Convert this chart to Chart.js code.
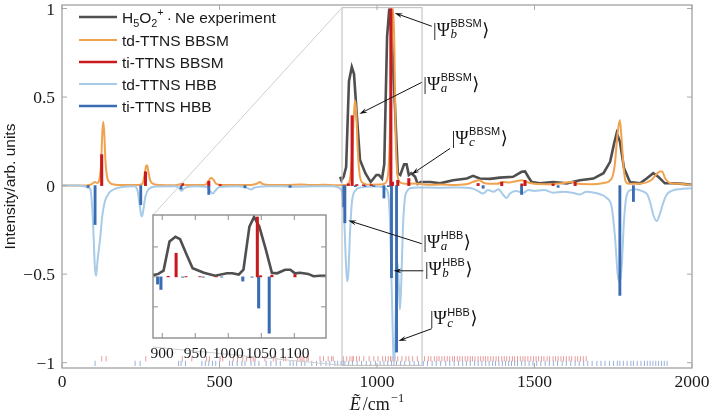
<!DOCTYPE html>
<html>
<head>
<meta charset="utf-8">
<script src="https://cdn.jsdelivr.net/npm/chart.js@4.4.1/dist/chart.umd.min.js"></script>
<style>
  html, body { margin: 0; padding: 0; background: #fff; }
  #wrap { position: relative; width: 709px; height: 415px; }
  #main { position: absolute; left: 0; top: 0; }
  #inset { position: absolute; left: 148px; top: 211px; }
</style>
</head>
<body>
<div id="wrap">
  <canvas id="main" width="709" height="415"></canvas>
  <canvas id="inset" width="186" height="150"></canvas>
</div>
<script>
// series names (legend)
const names = ['H5O2+ · Ne experiment', 'td-TTNS BBSM', 'ti-TTNS BBSM', 'td-TTNS HBB', 'ti-TTNS HBB'];

// axis ticks
const xTicks = [0, 500, 1000, 1500, 2000];
const yTicks = [-1, -0.5, 0, 0.5, 1];
const insetXTicks = [900, 950, 1000, 1050, 1100];
const insetYTicks = [-0.5, 0, 0.5];

// H5O2+ . Ne experiment
const expE = [883, 887, 894, 902, 911, 920, 927, 937, 946, 963, 980, 998, 1006, 1016, 1023, 1032, 1039, 1047, 1057, 1066, 1074, 1086, 1094, 1101, 1109, 1121, 1129, 1139, 1148, 1170, 1200, 1241, 1285, 1305, 1326, 1359, 1390, 1432, 1459, 1470, 1480, 1491, 1517, 1559, 1602, 1644, 1687, 1719, 1740, 1753, 1761, 1771, 1784, 1803, 1835, 1856, 1877, 1893, 1914, 1940, 1970, 2000];
const expI = [0.05, 0.03, 0.05, 0.105, 0.59, 0.67, 0.63, 0.37, 0.145, 0.07, 0.02, 0.06, 0.06, 0.04, 0.12, 0.84, 1.0, 0.84, 0.45, 0.07, 0.06, 0.12, 0.12, 0.06, 0.07, 0.05, 0.01, 0.02, 0.02, 0.02, 0.013, 0.03, 0.04, 0.055, 0.04, 0.038, 0.045, 0.05, 0.078, 0.08, 0.05, 0.02, 0.013, 0.02, 0.013, 0.03, 0.04, 0.07, 0.134, 0.24, 0.297, 0.25, 0.1, 0.02, 0.013, 0.04, 0.07, 0.05, 0.013, 0.013, 0.01, 0.005];

// td-TTNS BBSM
const tdbE = [0, 60, 90, 105, 112, 118, 124, 128, 131, 134, 138, 143, 150, 160, 180, 240, 255, 262, 267, 270, 274, 280, 290, 310, 360, 375, 382, 390, 420, 455, 465, 473, 480, 490, 510, 560, 600, 620, 628, 636, 660, 720, 760, 790, 830, 870, 900, 912, 920, 926, 930, 934, 939, 945, 955, 980, 1010, 1025, 1035, 1042, 1047, 1051, 1055, 1059, 1064, 1072, 1090, 1120, 1160, 1200, 1250, 1290, 1310, 1325, 1340, 1380, 1400, 1420, 1440, 1460, 1475, 1500, 1540, 1580, 1620, 1640, 1680, 1720, 1745, 1755, 1763, 1771, 1777, 1783, 1790, 1800, 1840, 1870, 1885, 1898, 1905, 1915, 1930, 1960, 2000];
const tdbI = [0, 0, 0.005, 0.02, 0.015, 0.03, 0.12, 0.30, 0.36, 0.30, 0.14, 0.05, 0.02, 0.008, 0.003, 0.003, 0.01, 0.06, 0.11, 0.115, 0.08, 0.03, 0.01, 0.003, 0.002, 0.008, 0.012, 0.004, 0.003, 0.005, 0.025, 0.045, 0.035, 0.01, 0.004, 0.003, 0.004, 0.012, 0.02, 0.01, 0.003, 0.004, 0.006, 0.003, 0.005, 0.002, 0.004, 0.02, 0.15, 0.38, 0.48, 0.42, 0.2, 0.06, 0.015, 0.005, 0.006, 0.012, 0.06, 0.35, 0.8, 1.0, 0.8, 0.3, 0.08, 0.02, 0.01, 0.012, 0.005, 0.006, 0.004, 0.01, 0.025, 0.03, 0.015, 0.01, 0.02, 0.018, 0.025, 0.03, 0.02, 0.01, 0.008, 0.012, 0.02, 0.01, 0.008, 0.015, 0.04, 0.12, 0.28, 0.37, 0.25, 0.1, 0.02, 0.01, 0.012, 0.03, 0.06, 0.08, 0.08, 0.04, 0.015, 0.01, 0.005];

// ti-TTNS BBSM sticks
const redE = [126, 265, 382, 466, 502, 909, 921, 936, 957, 982, 1044, 1049, 1066, 1101, 1321, 1396, 1460, 1470, 1559, 1629];
const redI = [0.175, 0.078, 0.012, 0.025, 0.006, 0.01, 0.395, 0.006, 0.005, 0.005, 1.0, 0.02, 0.03, 0.04, 0.012, 0.02, 0.01, 0.03, 0.01, 0.02];

// td-TTNS HBB
const tdhE = [0, 50, 70, 84, 90, 95, 100, 104, 108, 113, 121, 128, 136, 150, 166, 190, 230, 240, 246, 251, 254, 258, 265, 275, 300, 360, 372, 380, 388, 420, 460, 470, 478, 486, 500, 560, 590, 600, 610, 650, 700, 740, 800, 860, 885, 895, 901, 905, 909, 914, 920, 930, 950, 980, 1010, 1030, 1040, 1047, 1052, 1055, 1058, 1062, 1065, 1069, 1073, 1077, 1082, 1088, 1096, 1105, 1130, 1200, 1260, 1300, 1320, 1337, 1352, 1370, 1385, 1400, 1411, 1422, 1440, 1465, 1480, 1500, 1530, 1560, 1590, 1620, 1644, 1665, 1690, 1710, 1729, 1745, 1756, 1764, 1771, 1777, 1784, 1792, 1805, 1820, 1840, 1858, 1868, 1878, 1888, 1898, 1910, 1920, 1935, 1960, 2000];
const tdhI = [0, 0, -0.004, -0.012, -0.02, -0.1, -0.27, -0.45, -0.51, -0.42, -0.3, -0.17, -0.09, -0.04, -0.02, -0.008, -0.004, -0.03, -0.1, -0.165, -0.174, -0.14, -0.06, -0.02, -0.005, -0.004, -0.015, -0.03, -0.015, -0.003, -0.008, -0.03, -0.045, -0.03, -0.008, -0.004, -0.015, -0.022, -0.012, -0.003, -0.004, -0.006, -0.003, -0.004, -0.02, -0.15, -0.42, -0.54, -0.5, -0.28, -0.1, -0.03, -0.01, -0.005, -0.006, -0.02, -0.15, -0.6, -0.95, -0.99, -0.85, -0.5, -0.43, -0.55, -0.7, -0.55, -0.25, -0.08, -0.03, -0.015, -0.01, -0.012, -0.01, -0.015, -0.03, -0.045, -0.025, -0.035, -0.02, -0.05, -0.07, -0.045, -0.03, -0.04, -0.025, -0.03, -0.025, -0.04, -0.035, -0.04, -0.05, -0.035, -0.04, -0.05, -0.07, -0.12, -0.3, -0.5, -0.55, -0.45, -0.2, -0.06, -0.025, -0.02, -0.03, -0.05, -0.1, -0.17, -0.2, -0.16, -0.09, -0.05, -0.03, -0.02, -0.015];

// ti-TTNS HBB sticks
const blueE = [83, 105, 250, 378, 466, 581, 724, 893, 898, 931, 962, 990, 1022, 1036, 1046, 1062, 1337, 1459, 1575, 1771, 1814];
const blueI = [-0.01, -0.22, -0.108, -0.02, -0.05, -0.012, -0.01, -0.12, -0.21, -0.006, -0.005, -0.005, -0.07, -0.006, -0.52, -0.94, -0.015, -0.05, -0.01, -0.62, -0.09];

// eigenstate positions (rug at the bottom)
const redRug = [126, 140, 266, 382, 412, 459, 468, 502, 510, 544, 557, 574, 586, 599, 607, 613, 644, 671, 679, 703, 710, 748, 756, 762, 768, 777, 782, 819, 830, 845, 856, 861, 893, 904, 914, 921, 925, 935, 944, 958, 975, 990, 1003, 1018, 1027, 1036, 1043, 1048, 1057, 1066, 1079, 1092, 1101, 1113, 1128, 1151, 1163, 1171, 1182, 1190, 1197, 1206, 1214, 1223, 1231, 1240, 1246, 1255, 1263, 1271, 1280, 1288, 1296, 1303, 1311, 1321, 1329, 1337, 1344, 1352, 1361, 1369, 1378, 1386, 1396, 1404, 1412, 1421, 1430, 1437, 1446, 1455, 1463, 1470, 1479, 1488, 1497, 1505, 1513, 1522, 1530, 1540, 1548, 1559, 1567, 1575, 1584, 1592, 1601, 1610, 1618, 1629, 1637, 1646, 1655, 1664];
const blueRug = [105, 232, 248, 370, 378, 392, 444, 455, 466, 478, 488, 500, 532, 541, 556, 571, 581, 600, 612, 625, 648, 663, 680, 693, 724, 734, 745, 760, 771, 793, 808, 822, 838, 850, 866, 875, 886, 893, 898, 910, 922, 937, 951, 966, 980, 995, 1010, 1022, 1034, 1046, 1054, 1062, 1075, 1088, 1104, 1118, 1132, 1147, 1160, 1175, 1188, 1202, 1218, 1231, 1245, 1259, 1272, 1284, 1296, 1310, 1321, 1333, 1345, 1356, 1367, 1376, 1387, 1398, 1408, 1418, 1427, 1437, 1446, 1459, 1470, 1483, 1495, 1507, 1520, 1534, 1547, 1560, 1573, 1588, 1601, 1615, 1629, 1642, 1656, 1669, 1683, 1698, 1711, 1724, 1738, 1751, 1763, 1771, 1782, 1794, 1806, 1814, 1826, 1838, 1849, 1858, 1867, 1876, 1885, 1894, 1903, 1912, 1921];

const C = {
  exp: '#4f4f4f', tdb: '#f1a24f', red: '#c9191d', tdh: '#a7cbe8', blue: '#3a6cb3',
  frame: '#a9a9a9', text: '#1a1a1a'
};
const sans = '"Liberation Sans", Arial, sans-serif';
const serif = '"Liberation Serif", "Times New Roman", serif';

const pts = (E, I) => E.map((e, i) => ({ x: e, y: I[i] }));
const fmt = v => (v < 0 ? '\u2212' : '') + Math.abs(v);

// zoomed region and arrow annotations (data units)
const zoomBox = { x0: 889, x1: 1143, y0: -1.015, y1: 1.005 };
const kets = [
  { sub: 'b', sup: 'BBSM', tx: 1178, ty: 0.846, fx: 1174, fy: 0.90, ex: 1056, ey: 0.975 },
  { sub: 'a', sup: 'BBSM', tx: 1147, ty: 0.542, fx: 1142, fy: 0.583, ex: 944, ey: 0.405 },
  { sub: 'c', sup: 'BBSM', tx: 1237, ty: 0.237, fx: 1232, fy: 0.21, ex: 1110, ey: 0.064 },
  { sub: 'a', sup: 'HBB', tx: 1147, ty: -0.35, fx: 1142, fy: -0.328, ex: 909, ey: -0.197 },
  { sub: 'b', sup: 'HBB', tx: 1152, ty: -0.504, fx: 1147, fy: -0.481, ex: 1052, ey: -0.481 },
  { sub: 'c', sup: 'HBB', tx: 1168, ty: -0.784, fx: 1174, fy: -0.808, ex: 1068, ey: -0.877 }
];

function line(ctx, x0, y0, x1, y1) {
  ctx.beginPath(); ctx.moveTo(x0, y0); ctx.lineTo(x1, y1); ctx.stroke();
}

function arrow(ctx, x0, y0, x1, y1) {
  const a = Math.atan2(y1 - y0, x1 - x0), L = 8, W = 2.4;
  const c = Math.cos(a), s = Math.sin(a);
  line(ctx, x0, y0, x1 - L * 0.7 * c, y1 - L * 0.7 * s);
  ctx.beginPath();
  ctx.moveTo(x1, y1);
  ctx.lineTo(x1 - L * c + W * s, y1 - L * s - W * c);
  ctx.lineTo(x1 - L * 0.65 * c, y1 - L * 0.65 * s);
  ctx.lineTo(x1 - L * c - W * s, y1 - L * s + W * c);
  ctx.closePath();
  ctx.fill();
}

function drawKet(ctx, x, y, sub, sup) {
  ctx.textAlign = 'left';
  ctx.textBaseline = 'alphabetic';
  ctx.font = '18px ' + serif;
  ctx.fillText('|\u03A8', x, y);
  const w = ctx.measureText('|\u03A8').width;
  ctx.font = '11px ' + sans;
  const wsup = ctx.measureText(sup).width;
  ctx.fillText(sup, x + w + 0.5, y - 8.5);
  ctx.font = 'italic 13px ' + serif;
  const wsub = ctx.measureText(sub).width;
  ctx.fillText(sub, x + w + 0.5, y + 2.5);
  ctx.font = '18px "DejaVu Serif", "DejaVu Sans", serif';
  ctx.fillText('\u27E9', x + w + Math.max(wsup, wsub) + 1, y);
}

function richText(ctx, x, y, parts, size) {
  let cx = x;
  parts.forEach(([t, m]) => {
    ctx.font = (m ? size * 0.7 : size) + 'px ' + sans;
    const dy = m === 'sub' ? size * 0.3 : m === 'sup' ? -size * 0.42 : 0;
    ctx.fillText(t, cx, y + dy);
    cx += ctx.measureText(t).width;
  });
}

function inwardTicks(ctx, a, x, y, xt, yt) {
  xt.forEach(v => {
    const p = x.getPixelForValue(v);
    line(ctx, p, a.bottom, p, a.bottom - 5);
    line(ctx, p, a.top, p, a.top + 5);
  });
  yt.forEach(v => {
    const p = y.getPixelForValue(v);
    line(ctx, a.left, p, a.left + 5, p);
    line(ctx, a.right, p, a.right - 5, p);
  });
}

// ---------- inset ----------
const insetLeft = 148, insetTop = 211;

const insetDecor = {
  id: 'insetDecor',
  beforeDraw(chart) {
    const { ctx, chartArea: a } = chart;
    ctx.save();
    ctx.fillStyle = '#fff';
    ctx.fillRect(a.left, a.top, a.width, a.height);
    ctx.restore();
  },
  afterDatasetsDraw(chart) {
    const { ctx, chartArea: a, scales: { x, y } } = chart;
    ctx.save();
    ctx.strokeStyle = '#8e8e8e';
    ctx.lineWidth = 1.4;
    ctx.strokeRect(a.left, a.top, a.width, a.height);
    ctx.lineWidth = 1;
    inwardTicks(ctx, a, x, y, insetXTicks, insetYTicks);
    ctx.fillStyle = C.text;
    ctx.font = '15.5px ' + serif;
    ctx.textAlign = 'center';
    ctx.textBaseline = 'alphabetic';
    insetXTicks.forEach(v => ctx.fillText(String(v), x.getPixelForValue(v), a.bottom + 20));
    ctx.restore();
  }
};

const inset = new Chart(document.getElementById('inset'), {
  type: 'line',
  data: {
    datasets: [
      { type: 'line', data: pts(expE, expI), borderColor: C.exp, borderWidth: 2.6, pointRadius: 0, tension: 0, order: 3 },
      { type: 'bar', data: pts(blueE, blueI), backgroundColor: C.blue, barThickness: 2.4, grouped: false, order: 2 },
      { type: 'bar', data: pts(redE, redI), backgroundColor: C.red, barThickness: 2.4, grouped: false, order: 1 }
    ]
  },
  options: {
    responsive: false,
    animation: false,
    events: [],
    layout: { padding: { left: 5, top: 4, right: 8, bottom: 0 } },
    plugins: { legend: { display: false }, tooltip: { enabled: false } },
    scales: {
      x: {
        type: 'linear', min: 886, max: 1148, offset: false,
        grid: { display: false, drawTicks: false }, border: { display: false },
        afterFit: s => { s.height = 23; },
        ticks: { display: false }
      },
      y: { display: false, min: -1.02, max: 1.033 }
    }
  },
  plugins: [insetDecor]
});

// ---------- main chart ----------
const mainDecor = {
  id: 'mainDecor',
  afterDatasetsDraw(chart) {
    const { ctx, chartArea: a, scales: { x, y } } = chart;
    ctx.save();
    // zoom box and connectors to the inset
    const bx0 = x.getPixelForValue(zoomBox.x0), bx1 = x.getPixelForValue(zoomBox.x1);
    const by0 = y.getPixelForValue(zoomBox.y0), by1 = y.getPixelForValue(zoomBox.y1);
    ctx.strokeStyle = '#bcbcbc';
    ctx.lineWidth = 1;
    ctx.strokeRect(bx0, by1, bx1 - bx0, by0 - by1);
    const ia = inset.chartArea;
    ctx.strokeStyle = '#cfcfcf';
    line(ctx, bx0, by1, insetLeft + ia.left, insetTop + ia.top);
    line(ctx, bx0, by0, insetLeft + ia.left, insetTop + ia.bottom + 9);
    // frame and inward ticks
    ctx.strokeStyle = C.frame;
    ctx.lineWidth = 1.4;
    ctx.strokeRect(a.left, a.top, a.width, a.height);
    ctx.lineWidth = 1;
    inwardTicks(ctx, a, x, y, xTicks, yTicks);
    // tick labels
    ctx.fillStyle = C.text;
    ctx.font = '17.5px ' + serif;
    ctx.textBaseline = 'alphabetic';
    ctx.textAlign = 'center';
    xTicks.forEach(v => ctx.fillText(String(v), x.getPixelForValue(v), a.bottom + 19));
    ctx.textAlign = 'right';
    yTicks.forEach(v => ctx.fillText(fmt(v), a.left - 7, y.getPixelForValue(v) + 6));
    ctx.restore();
  },
  afterDraw(chart) {
    const { ctx, chartArea: a, scales: { x, y } } = chart;
    ctx.save();
    ctx.fillStyle = C.text;
    ctx.strokeStyle = C.text;
    // legend
    const legend = [
      { parts: [['H'], ['5', 'sub'], ['O'], ['2', 'sub'], ['+', 'sup'], ['\u2009\u00B7\u2009Ne experiment']], color: C.exp, w: 2.6 },
      { parts: [[names[1]]], color: C.tdb, w: 2 },
      { parts: [[names[2]]], color: C.red, w: 2.4 },
      { parts: [[names[3]]], color: C.tdh, w: 2 },
      { parts: [[names[4]]], color: C.blue, w: 2.4 }
    ];
    const rowY = [17, 40, 62, 84, 106];
    legend.forEach((r, i) => {
      ctx.strokeStyle = r.color;
      ctx.lineWidth = r.w;
      line(ctx, 79, rowY[i], 117, rowY[i]);
      ctx.fillStyle = C.text;
      ctx.textAlign = 'left';
      ctx.textBaseline = 'alphabetic';
      richText(ctx, 122, rowY[i] + 5.5, r.parts, 15.5);
    });
    // kets with arrows
    ctx.fillStyle = '#111';
    ctx.strokeStyle = '#111';
    ctx.lineWidth = 1;
    kets.forEach(k => {
      arrow(ctx, x.getPixelForValue(k.fx), y.getPixelForValue(k.fy), x.getPixelForValue(k.ex), y.getPixelForValue(k.ey));
      drawKet(ctx, x.getPixelForValue(k.tx), y.getPixelForValue(k.ty), k.sub, k.sup);
    });
    // y title
    ctx.fillStyle = C.text;
    ctx.save();
    ctx.translate(14.5, (a.top + a.bottom) / 2);
    ctx.rotate(-Math.PI / 2);
    ctx.textAlign = 'center';
    ctx.textBaseline = 'alphabetic';
    ctx.font = '15.5px ' + sans;
    ctx.fillText('Intensity/arb. units', 0, 0);
    ctx.restore();
    // x title: E~ / cm^-1
    ctx.textAlign = 'left';
    ctx.textBaseline = 'alphabetic';
    ctx.font = 'italic 18px ' + serif;
    const wE = ctx.measureText('\u1EBC').width;
    ctx.font = '18px ' + serif;
    const wCm = ctx.measureText('/cm').width;
    ctx.font = '12.5px ' + serif;
    const wSup = ctx.measureText('\u22121').width;
    let tx = (a.left + a.right) / 2 - (wE + 2 + wCm + 1 + wSup) / 2;
    const ty = 410;
    ctx.font = 'italic 18px ' + serif;
    ctx.fillText('\u1EBC', tx, ty);
    tx += wE + 2;
    ctx.font = '18px ' + serif;
    ctx.fillText('/cm', tx, ty);
    tx += wCm + 1;
    ctx.font = '12.5px ' + serif;
    ctx.fillText('\u22121', tx, ty - 8);
    ctx.restore();
  }
};

new Chart(document.getElementById('main'), {
  type: 'line',
  data: {
    datasets: [
      { type: 'line', label: names[0], data: pts(expE, expI), borderColor: C.exp, borderWidth: 2.6, pointRadius: 0, tension: 0, order: 5 },
      { type: 'line', label: names[1], data: pts(tdbE, tdbI), borderColor: C.tdb, borderWidth: 2, pointRadius: 0, cubicInterpolationMode: 'monotone', order: 4 },
      { type: 'bar', label: names[2], data: pts(redE, redI), backgroundColor: C.red, barThickness: 2.4, grouped: false, order: 1 },
      { type: 'line', label: names[3], data: pts(tdhE, tdhI), borderColor: C.tdh, borderWidth: 2, pointRadius: 0, cubicInterpolationMode: 'monotone', order: 3 },
      { type: 'bar', label: names[4], data: pts(blueE, blueI), backgroundColor: C.blue, barThickness: 2.2, grouped: false, order: 2 },
      { type: 'scatter', data: redRug.map(e => ({ x: e, y: -0.978 })), pointStyle: 'line', pointRotation: 90, pointRadius: 2.6,
        borderColor: 'rgba(214,72,72,0.55)', pointBorderColor: 'rgba(214,72,72,0.55)', pointBorderWidth: 1, order: 6 },
      { type: 'scatter', data: blueRug.map(e => ({ x: e, y: -1.004 })), pointStyle: 'line', pointRotation: 90, pointRadius: 2.6,
        borderColor: 'rgba(70,110,185,0.55)', pointBorderColor: 'rgba(70,110,185,0.55)', pointBorderWidth: 1, order: 7 }
    ]
  },
  options: {
    responsive: false,
    animation: false,
    events: [],
    layout: { padding: { left: 0, top: 2, right: 17, bottom: 0 } },
    plugins: { legend: { display: false }, tooltip: { enabled: false } },
    scales: {
      x: {
        type: 'linear', min: 0, max: 2000, offset: false,
        grid: { display: false, drawTicks: false }, border: { display: false },
        afterFit: s => { s.height = 47; },
        ticks: { display: false }
      },
      y: {
        type: 'linear', min: -1.03, max: 1.02,
        grid: { display: false, drawTicks: false }, border: { display: false },
        afterFit: s => { s.width = 62; },
        ticks: { display: false }
      }
    }
  },
  plugins: [mainDecor]
});
</script>
</body>
</html>
